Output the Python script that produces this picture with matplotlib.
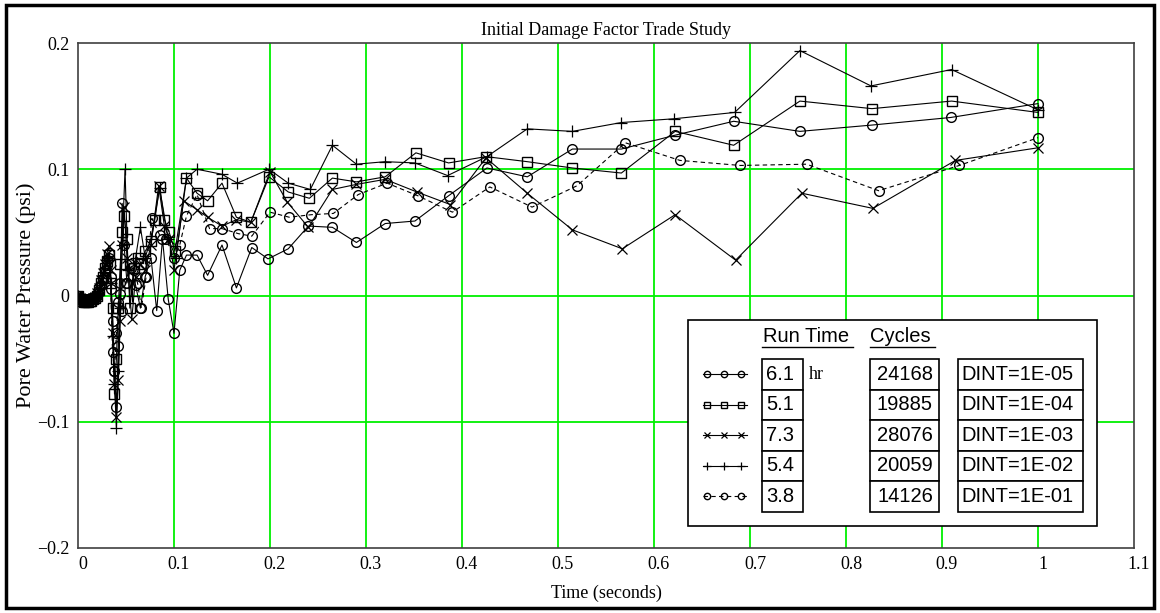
import matplotlib
matplotlib.use("Agg")
import matplotlib.pyplot as plt
import matplotlib.transforms as mtransforms
from matplotlib.patches import Rectangle
from matplotlib.lines import Line2D

# series: DINT=1E-05 (circles, solid)
tA = [0.000, 0.002, 0.004, 0.006, 0.008, 0.010, 0.012, 0.014, 0.016, 0.018,
      0.020, 0.022, 0.024, 0.026, 0.028, 0.030, 0.032, 0.034, 0.036, 0.038,
      0.040, 0.042, 0.044, 0.046, 0.048,
      0.051, 0.055, 0.060, 0.065, 0.070, 0.076, 0.082, 0.088, 0.094, 0.100,
      0.106, 0.113, 0.124, 0.135, 0.150, 0.165, 0.181, 0.198, 0.219, 0.240,
      0.265, 0.290, 0.320, 0.351, 0.386, 0.426, 0.468, 0.515, 0.566, 0.622,
      0.683, 0.752, 0.827, 0.909, 1.000]
yA = [0.000, -0.003, -0.004, -0.004, -0.004, -0.004, -0.003, -0.003, -0.002, -0.002,
      0.000, 0.003, 0.008, 0.012, 0.020, 0.028, 0.034, 0.015, -0.020, -0.060,
      -0.088, -0.040, 0.010, 0.073, 0.040,
      0.010, 0.022, 0.008, -0.010, 0.015, 0.030, -0.012, 0.045, -0.003, -0.030,
      0.020, 0.032, 0.032, 0.016, 0.040, 0.006, 0.038, 0.029, 0.037, 0.055,
      0.054, 0.042, 0.057, 0.059, 0.079, 0.101, 0.094, 0.116, 0.116, 0.127,
      0.138, 0.130, 0.135, 0.141, 0.152]

# DINT=1E-04 (squares, solid)
tB = [0.000, 0.002, 0.004, 0.006, 0.008, 0.010, 0.012, 0.014, 0.016, 0.018,
      0.020, 0.022, 0.024, 0.026, 0.028, 0.030, 0.032, 0.034, 0.036, 0.038,
      0.040, 0.042, 0.044, 0.046, 0.048,
      0.051, 0.054, 0.058, 0.062, 0.066, 0.070, 0.076, 0.080, 0.085, 0.090,
      0.095, 0.101, 0.113, 0.124, 0.135, 0.150, 0.165, 0.180, 0.199, 0.219,
      0.241, 0.265, 0.290, 0.320, 0.352, 0.386, 0.425, 0.468, 0.515, 0.566,
      0.622, 0.683, 0.752, 0.827, 0.910, 1.000]
yB = [0.000, -0.003, -0.004, -0.005, -0.005, -0.005, -0.004, -0.004, -0.003, -0.002,
      0.000, 0.004, 0.010, 0.015, 0.022, 0.027, 0.032, 0.010, -0.010, -0.078,
      -0.050, -0.010, 0.025, 0.050, 0.063,
      0.045, -0.010, 0.022, 0.030, 0.025, 0.035, 0.043, 0.060, 0.086, 0.060,
      0.050, 0.035, 0.093, 0.081, 0.075, 0.089, 0.062, 0.058, 0.094, 0.082,
      0.077, 0.093, 0.090, 0.094, 0.113, 0.105, 0.110, 0.106, 0.101, 0.097,
      0.130, 0.119, 0.154, 0.148, 0.154, 0.145]

# DINT=1E-03 (x, solid)
tC = [0.000, 0.002, 0.004, 0.006, 0.008, 0.010, 0.012, 0.014, 0.016, 0.018,
      0.020, 0.022, 0.024, 0.026, 0.028, 0.030, 0.032, 0.034, 0.036, 0.038,
      0.040, 0.042, 0.044, 0.046, 0.048,
      0.051, 0.056, 0.060, 0.065, 0.070, 0.076, 0.084, 0.090, 0.095, 0.100,
      0.110, 0.124, 0.135, 0.150, 0.165, 0.180, 0.200, 0.218, 0.240, 0.265,
      0.290, 0.320, 0.353, 0.388, 0.425, 0.468, 0.515, 0.567, 0.622, 0.685,
      0.754, 0.828, 0.914, 1.000]
yC = [0.000, -0.002, -0.003, -0.004, -0.004, -0.004, -0.003, -0.003, -0.002, -0.001,
      0.002, 0.006, 0.012, 0.018, 0.025, 0.033, 0.039, 0.020, -0.030, -0.070,
      -0.096, -0.067, -0.020, 0.040, 0.070,
      0.030, -0.019, 0.015, 0.025, 0.020, 0.040, 0.087, 0.055, 0.045, 0.020,
      0.075, 0.068, 0.062, 0.055, 0.060, 0.058, 0.098, 0.074, 0.054, 0.084,
      0.088, 0.092, 0.082, 0.072, 0.109, 0.081, 0.052, 0.037, 0.064, 0.028,
      0.081, 0.069, 0.107, 0.117]

# DINT=1E-02 (+, solid)
tD = [0.000, 0.002, 0.004, 0.006, 0.008, 0.010, 0.012, 0.014, 0.016, 0.018,
      0.020, 0.022, 0.024, 0.026, 0.028, 0.030, 0.032, 0.034, 0.036, 0.038,
      0.040, 0.042, 0.044, 0.046,
      0.049, 0.052, 0.056, 0.060, 0.065, 0.070, 0.076, 0.085, 0.094, 0.102,
      0.113, 0.124, 0.150, 0.166, 0.199, 0.219, 0.242, 0.265, 0.290, 0.320,
      0.351, 0.385, 0.426, 0.468, 0.515, 0.566, 0.621, 0.684, 0.752, 0.826,
      0.910, 1.000]
yD = [0.000, -0.003, -0.004, -0.004, -0.004, -0.004, -0.003, -0.003, -0.002, -0.002,
      0.001, 0.005, 0.010, 0.016, 0.022, 0.028, 0.030, 0.010, -0.032, -0.070,
      -0.105, -0.060, -0.010, 0.040,
      0.100, 0.020, 0.000, 0.030, 0.054, 0.030, 0.045, 0.085, 0.045, 0.030,
      0.093, 0.100, 0.096, 0.089, 0.100, 0.089, 0.084, 0.119, 0.104, 0.106,
      0.105, 0.095, 0.110, 0.132, 0.130, 0.137, 0.140, 0.145, 0.194, 0.166,
      0.179, 0.147]

# DINT=1E-01 (circles, dashed)
tE = [0.000, 0.002, 0.004, 0.006, 0.008, 0.010, 0.012, 0.014, 0.016, 0.018,
      0.020, 0.022, 0.024, 0.026, 0.028, 0.030, 0.032, 0.034, 0.036, 0.038,
      0.040, 0.042, 0.044, 0.046,
      0.050, 0.054, 0.058, 0.062, 0.066, 0.071, 0.077, 0.085, 0.092, 0.100,
      0.106, 0.113, 0.124, 0.137, 0.150, 0.167, 0.181, 0.200, 0.220, 0.243,
      0.266, 0.292, 0.322, 0.354, 0.390, 0.429, 0.473, 0.520, 0.570, 0.627,
      0.690, 0.759, 0.834, 0.918, 1.000]
yE = [0.000, -0.002, -0.003, -0.003, -0.003, -0.003, -0.003, -0.002, -0.002, -0.001,
      0.001, 0.004, 0.008, 0.013, 0.018, 0.024, 0.030, 0.005, -0.045, -0.060,
      -0.030, -0.005, 0.001, -0.012,
      0.010, 0.025, 0.020, 0.010, -0.010, 0.015, 0.061, 0.048, 0.045, 0.030,
      0.040, 0.063, 0.080, 0.053, 0.053, 0.049, 0.047, 0.066, 0.062, 0.064,
      0.065, 0.080, 0.089, 0.079, 0.066, 0.086, 0.070, 0.087, 0.121, 0.107,
      0.103, 0.104, 0.083, 0.103, 0.125]

run_time = ["6.1", "5.1", "7.3", "5.4", "3.8"]
cycles = ["24168", "19885", "28076", "20059", "14126"]
dint = ["DINT=1E-05", "DINT=1E-04", "DINT=1E-03", "DINT=1E-02", "DINT=1E-01"]

W, H = 1160, 613
fig = plt.figure(figsize=(W / 100, H / 100), dpi=100)
ax = fig.add_axes([78 / W, 1 - 548 / H, 1056 / W, 505 / H])

styles = [
    dict(marker="o", ms=7, ls="-"),
    dict(marker="s", ms=7, ls="-"),
    dict(marker="x", ms=7, ls="-", mew=0.9),
    dict(marker="+", ms=9, ls="-", mew=0.9),
    dict(marker="o", ms=7, ls=(0, (4, 3))),
]
series = [(tA, yA), (tB, yB), (tC, yC), (tD, yD), (tE, yE)]
for (t, y), st in zip(series, styles):
    ax.plot(t, y, color="black", lw=0.8, mfc="none", mec="black",
            zorder=3, **st)

serif = "Liberation Serif"
ax.set_xlim(0, 1.1)
ax.set_ylim(-0.2, 0.2)
ax.set_xticks([0, 0.1, 0.2, 0.3, 0.4, 0.5, 0.6, 0.7, 0.8, 0.9, 1.0, 1.1])
ax.set_xticklabels(["0", "0.1", "0.2", "0.3", "0.4", "0.5", "0.6", "0.7",
                    "0.8", "0.9", "1", "1.1"])
ax.set_yticks([-0.2, -0.1, 0, 0.1, 0.2])
ax.set_yticklabels(["\u22120.2", "\u22120.1", "0", "0.1", "0.2"])
ax.tick_params(length=0, labelsize=13, pad=6)
shift = mtransforms.ScaledTranslation(5 / 100, 0, fig.dpi_scale_trans)
for lab in ax.get_xticklabels():
    lab.set_family(serif)
    lab.set_transform(lab.get_transform() + shift)
for lab in ax.get_yticklabels():
    lab.set_family(serif)
for gx in [0.1, 0.2, 0.3, 0.4, 0.5, 0.6, 0.7, 0.8, 0.9, 1.0]:
    ax.axvline(gx, color="#00f000", lw=1.3, zorder=1)
for gy in [-0.1, 0, 0.1]:
    ax.axhline(gy, color="#00f000", lw=1.3, zorder=1)
for sp in ax.spines.values():
    sp.set_color("#404040")
    sp.set_linewidth(1.2)

ax.set_title("Initial Damage Factor Trade Study", family=serif,
             fontsize=13, pad=6)
ax.set_xlabel("Time (seconds)", family=serif, fontsize=13, labelpad=8)
ax.set_ylabel("Pore Water Pressure (psi)", family=serif, fontsize=16)
ax.yaxis.set_label_coords(-0.040, 0.5)


def fx(x):
    return x / W


def fy(y):
    return 1 - y / H


def box(x0, y0, x1, y1, lw=1.2):
    fig.add_artist(Rectangle((fx(x0), fy(y1)), fx(x1) - fx(x0), fy(y0) - fy(y1),
                             transform=fig.transFigure, fc="white",
                             ec="black", lw=lw, zorder=5))


# legend panel
box(688, 320, 1097, 526)
sans = "Liberation Sans"
fs = 14.5
fig.text(fx(763), fy(337), "Run Time", family=sans, fontsize=fs,
         va="center", ha="left", zorder=6)
fig.add_artist(Line2D([fx(762), fx(853)], [fy(347), fy(347)],
                      transform=fig.transFigure, color="black", lw=1, zorder=6))
fig.text(fx(870), fy(337), "Cycles", family=sans, fontsize=fs,
         va="center", ha="left", zorder=6)
fig.add_artist(Line2D([fx(870), fx(935)], [fy(347), fy(347)],
                      transform=fig.transFigure, color="black", lw=1, zorder=6))

row_top = [359, 389.5, 420, 450.5, 481]
row_h = 30.5
for i in range(5):
    y0 = row_top[i]
    y1 = y0 + row_h
    yc = (y0 + y1) / 2
    box(762, y0, 803, y1)
    box(870, y0, 939, y1)
    box(958, y0, 1083, y1)
    fig.text(fx(766), fy(yc), run_time[i], family=sans, fontsize=fs,
             va="center", ha="left", zorder=6)
    fig.text(fx(933), fy(yc), cycles[i], family=sans, fontsize=fs,
             va="center", ha="right", zorder=6)
    fig.text(fx(961), fy(yc), dint[i], family=sans, fontsize=fs,
             va="center", ha="left", zorder=6)
    st = dict(styles[i])
    st["ms"] = st["ms"] * 0.65
    ls = st.pop("ls")
    fig.add_artist(Line2D([fx(703), fx(747)], [fy(yc), fy(yc)],
                          transform=fig.transFigure, color="black", lw=0.8,
                          ls=ls, zorder=6))
    fig.add_artist(Line2D([fx(707), fx(724), fx(741)], [fy(yc)] * 3,
                          transform=fig.transFigure, color="black", lw=0,
                          mfc="none", mec="black", zorder=6, **st))
    if i == 0:
        fig.text(fx(809), fy(yc), "hr", family=serif,
                 fontsize=13, va="center", ha="left", zorder=6)

# outer frame
fig.add_artist(Rectangle((fx(6), fy(608)), fx(1154) - fx(6), fy(5) - fy(608),
                         transform=fig.transFigure, fc="none", ec="black",
                         lw=2.5, zorder=10))

fig.savefig("out.png", dpi=100)
